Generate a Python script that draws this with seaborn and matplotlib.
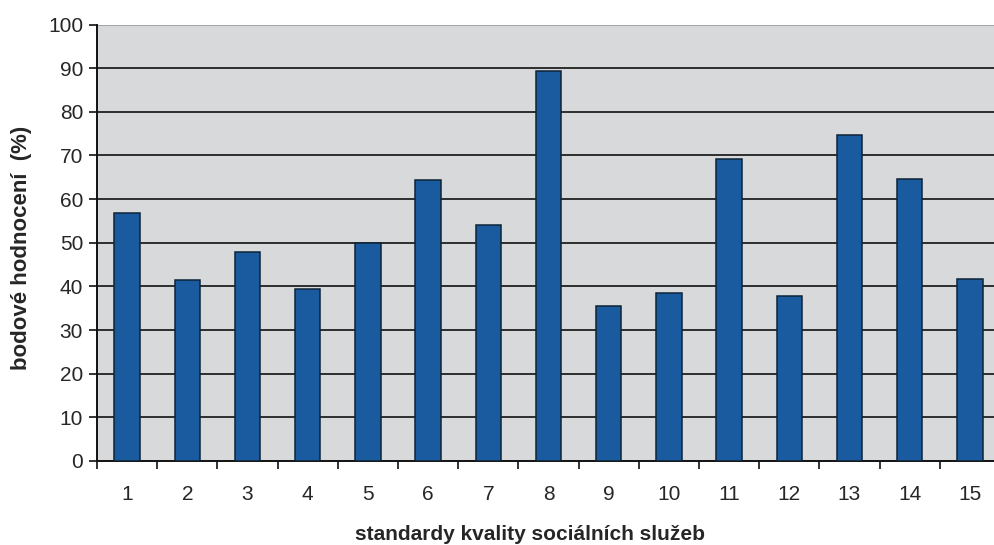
import matplotlib
matplotlib.use("Agg")
import matplotlib.pyplot as plt
import seaborn as sns
import pandas as pd
import numpy as np
from matplotlib.ticker import FixedLocator

# Quality standards of social services (1-15) and their point scores in %
standards = [str(i) for i in range(1, 16)]
scores = [56.8, 41.5, 47.8, 39.3, 49.9, 64.4, 54.0, 89.3, 35.4, 38.5,
          69.1, 37.7, 74.7, 64.6, 41.7]

y_ticks = list(range(0, 101, 10))

sns.set_theme(style="white")
plt.rcParams["font.family"] = ["Liberation Sans", "DejaVu Sans"]

df = pd.DataFrame({"standard": standards, "score": scores})

fig = plt.figure(figsize=(9.95, 5.45), dpi=100)
# plot area runs past the right edge of the page
ax_left, ax_bottom, ax_w, ax_h = 97, 84, 903, 436.5
ax = fig.add_axes([ax_left / 995, ax_bottom / 545, ax_w / 995, ax_h / 545])
ax.set_facecolor("#d7d9da")

sns.barplot(data=df, x="standard", y="score", color="#1a5a9e",
            saturation=1, width=0.42, edgecolor="#0e2438", linewidth=1.1,
            ax=ax, zorder=3)

ax.set_xlim(-0.5, len(standards) - 0.5)
ax.set_ylim(0, 100)

# horizontal gridlines behind bars
for v in y_ticks[1:-1]:
    ax.axhline(v, color="#111111", lw=1.2, zorder=1)
ax.axhline(100, color="#9a9a9a", lw=1.2, zorder=1)

ax.yaxis.set_major_locator(FixedLocator(y_ticks))
ax.tick_params(axis="y", which="major", length=6, width=1.2, color="#111111",
               labelsize=15, pad=4, left=True, direction="out")
ax.tick_params(axis="x", which="major", length=0, labelsize=15, pad=17)
ax.xaxis.set_minor_locator(FixedLocator(np.arange(-0.5, len(standards), 1.0)))
ax.tick_params(axis="x", which="minor", length=6, width=1.2, color="#111111",
               bottom=True, direction="out")

for side in ["top", "right"]:
    ax.spines[side].set_visible(False)
for side in ["left", "bottom"]:
    ax.spines[side].set_color("#111111")
    ax.spines[side].set_linewidth(1.4)

ax.set_xlabel("standardy kvality sociálních služeb", fontsize=15,
              fontweight="bold", va="center")
ax.set_ylabel("bodové hodnocení  (%)", fontsize=16, fontweight="bold",
              va="center")
ax.xaxis.set_label_coords((530 - ax_left) / ax_w, -(535 - 461) / ax_h)
ax.yaxis.set_label_coords(-(ax_left - 22) / ax_w, (461 - 248) / ax_h)

fig.savefig("out.png", dpi=100, facecolor="white")
